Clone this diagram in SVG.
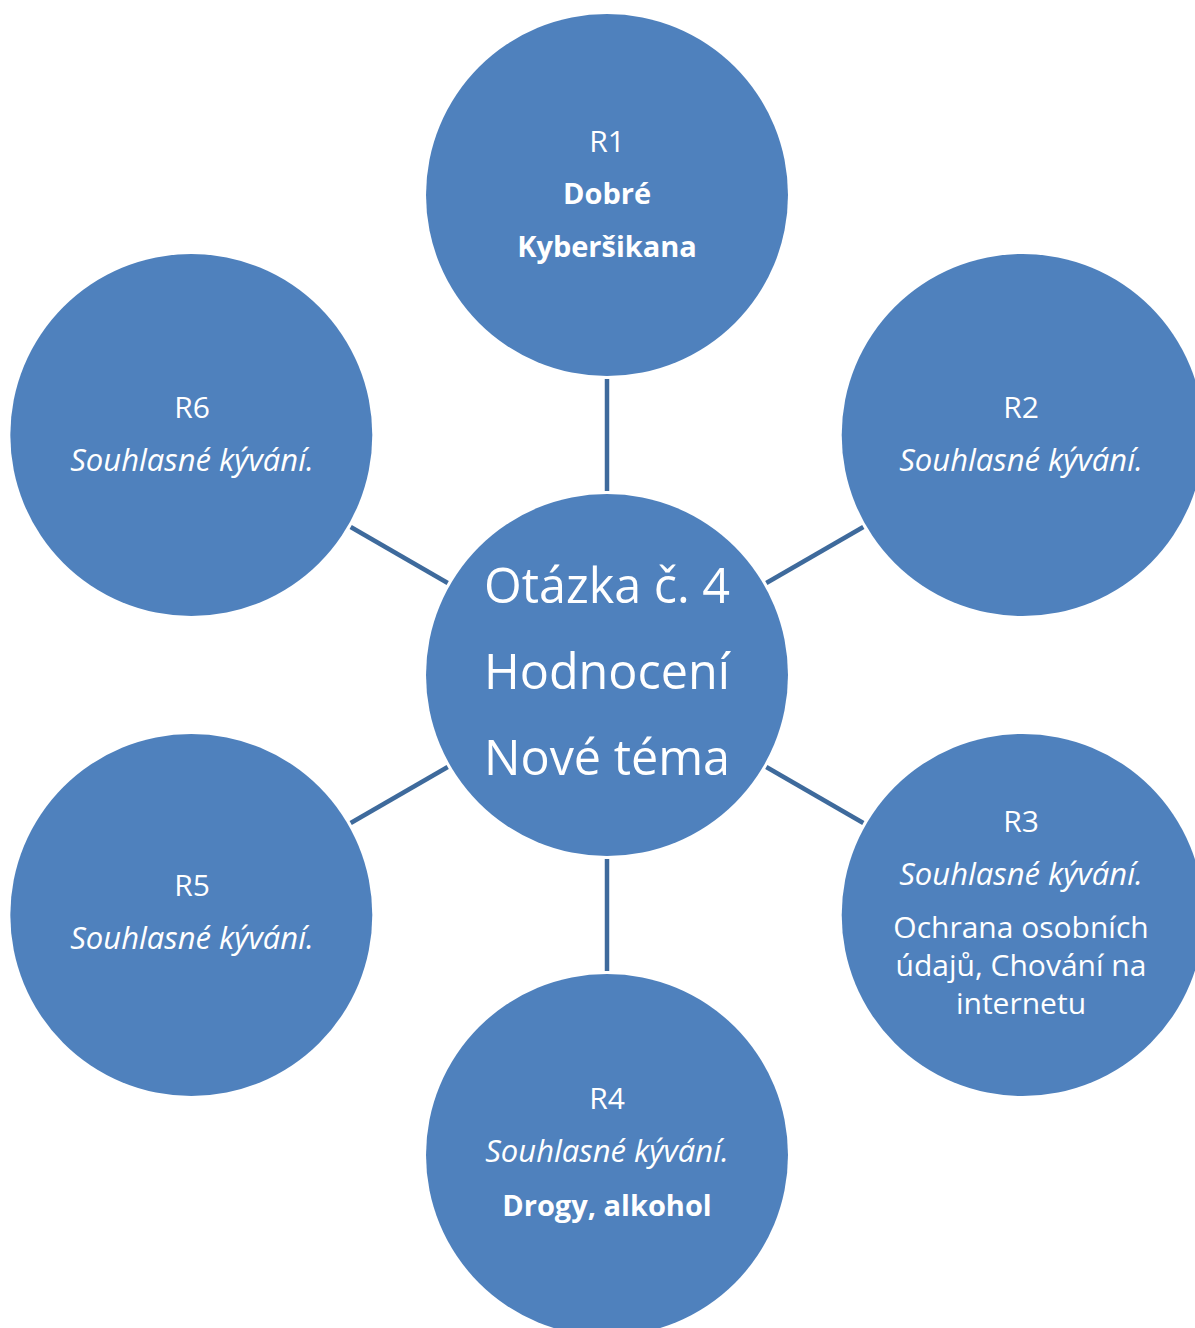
<svg xmlns="http://www.w3.org/2000/svg" width="1195" height="1328" viewBox="0 0 1195 1328">
<style>
.c{fill:#4F81BD;}
.ln{stroke:#3E6A9C;stroke-width:4.5;stroke-linecap:butt;}
text{font-family:"Open Sans","Liberation Sans",sans-serif;fill:#FFFFFF;text-anchor:middle;}
.s{font-size:30px;}
.i{font-style:italic;font-size:31px;}
.b{font-weight:bold;font-size:29px;}
.big{font-size:48.5px;}
</style>
<rect width="1195" height="1328" fill="#FFFFFF"/>
<g id="connectors">
<line class="ln" x1="607" y1="491" x2="607" y2="379"/>
<line class="ln" x1="766.3" y1="583" x2="863.3" y2="527"/>
<line class="ln" x1="766.3" y1="767" x2="863.3" y2="823"/>
<line class="ln" x1="607" y1="859" x2="607" y2="971"/>
<line class="ln" x1="447.7" y1="767" x2="350.7" y2="823"/>
<line class="ln" x1="447.7" y1="583" x2="350.7" y2="527"/>
</g>
<g id="center">
<circle class="c" cx="607" cy="675" r="181"/>
<text class="big" x="607" y="603">Otázka č. 4</text>
<text class="big" x="607" y="689">Hodnocení</text>
<text class="big" x="607" y="775">Nové téma</text>
</g>
<g id="R1">
<circle class="c" cx="607" cy="195" r="181"/>
<text class="s" x="607" y="152">R1</text>
<text class="s b" x="607" y="204">Dobré</text>
<text class="s b" x="607" y="257">Kyberšikana</text>
</g>
<g id="R2">
<circle class="c" cx="1022.7" cy="435" r="181"/>
<text class="s" x="1021" y="418">R2</text>
<text class="s i" x="1021" y="471">Souhlasné kývání.</text>
</g>
<g id="R3">
<circle class="c" cx="1022.7" cy="915" r="181"/>
<text class="s" x="1021" y="832">R3</text>
<text class="s i" x="1021" y="885">Souhlasné kývání.</text>
<text class="s" x="1021" y="938">Ochrana osobních</text>
<text class="s" x="1021" y="976">údajů, Chování na</text>
<text class="s" x="1021" y="1014">internetu</text>
</g>
<g id="R4">
<circle class="c" cx="607" cy="1155" r="181"/>
<text class="s" x="607" y="1109">R4</text>
<text class="s i" x="607" y="1162">Souhlasné kývání.</text>
<text class="s b" x="607" y="1216">Drogy, alkohol</text>
</g>
<g id="R5">
<circle class="c" cx="191.3" cy="915" r="181"/>
<text class="s" x="192" y="896">R5</text>
<text class="s i" x="192" y="949">Souhlasné kývání.</text>
</g>
<g id="R6">
<circle class="c" cx="191.3" cy="435" r="181"/>
<text class="s" x="192" y="418">R6</text>
<text class="s i" x="192" y="471">Souhlasné kývání.</text>
</g>
</svg>
